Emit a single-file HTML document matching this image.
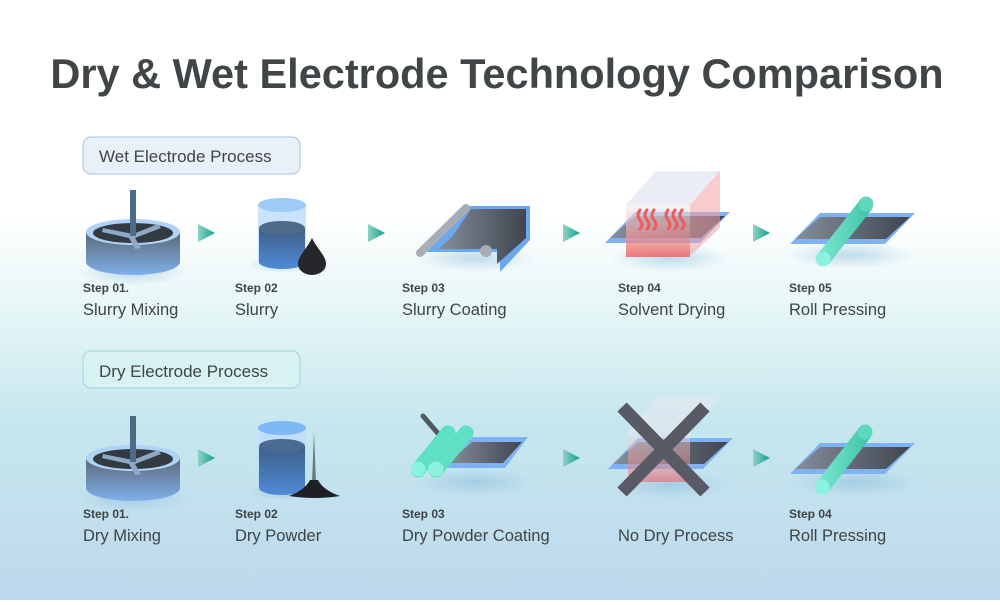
<!DOCTYPE html>
<html><head><meta charset="utf-8"><style>
html,body{margin:0;padding:0}
body{width:1000px;height:600px;overflow:hidden;font-family:"Liberation Sans",sans-serif}
</style></head><body>
<svg width="1000" height="600" viewBox="0 0 1000 600" xmlns="http://www.w3.org/2000/svg">
<defs>
<linearGradient id="bg" x1="0" y1="0" x2="0" y2="1">
<stop offset="0" stop-color="#ffffff"/><stop offset="0.36" stop-color="#ffffff"/>
<stop offset="0.52" stop-color="#e6f6f6"/><stop offset="0.7" stop-color="#c6e7ef"/>
<stop offset="1" stop-color="#bdd9ec"/></linearGradient>
<linearGradient id="arr" x1="0" x2="1"><stop offset="0" stop-color="#8fd3c6"/><stop offset="1" stop-color="#11a08e"/></linearGradient>
<linearGradient id="metal" x1="0" x2="1"><stop offset="0" stop-color="#868e9c"/><stop offset="1" stop-color="#40454e"/></linearGradient>
<linearGradient id="tub" x1="0" y1="0" x2="0" y2="1"><stop offset="0" stop-color="#5d6876"/><stop offset="1" stop-color="#7fb0ec"/></linearGradient>
<linearGradient id="cyl" x1="0" y1="0" x2="0" y2="1"><stop offset="0" stop-color="#3f5f86"/><stop offset="1" stop-color="#4f8ad8"/></linearGradient>
<linearGradient id="heat" x1="0" y1="0" x2="0" y2="1"><stop offset="0" stop-color="#eef0f5" stop-opacity="0.6"/><stop offset="1" stop-color="#f05a5a" stop-opacity="0.8"/></linearGradient>
<linearGradient id="roll" x1="0" x2="1"><stop offset="0" stop-color="#7fe8d2"/><stop offset="1" stop-color="#3cc3a6"/></linearGradient>
<radialGradient id="sh"><stop offset="0" stop-color="#7fb5d8" stop-opacity="0.45"/><stop offset="1" stop-color="#7fb5d8" stop-opacity="0"/></radialGradient>
<g id="arrow"><path d="M0,-9 L17,0 L0,9 Z" fill="url(#arr)"/></g>
<g id="plate">
<path d="M0,31 L30,0 L125,0 L95,31 Z" fill="#7fb2f2"/>
<path d="M5,26 L30,4 L120,4 L96,26 Z" fill="url(#metal)"/>
</g>
<g id="mixer">
<ellipse cx="0" cy="40" rx="55" ry="14" fill="url(#sh)"/>
<path d="M-47,0 L-47,30 A47,13 0 0 0 47,30 L47,0 Z" fill="url(#tub)"/>
<ellipse cx="0" cy="0" rx="47" ry="13" fill="#aed3f7"/>
<ellipse cx="0" cy="1" rx="40" ry="10" fill="#333a42"/>
<path d="M-30,-4 L0,2 L25,-8 L28,-4 L2,6 L8,16 L2,17 L-4,6 L-31,0 Z" fill="#8ea8c6"/>
<rect x="-3" y="-42" width="6" height="46" fill="#4d6b86"/>
</g>
<g id="roller">
<path d="M-6,6 L37,-49 L49,-40 L6,15 Z" fill="url(#roll)"/>
<circle cx="0" cy="10" r="7.5" fill="#8af2de"/>
<circle cx="43" cy="-45" r="7.5" fill="#5fd7bd"/>
</g>
</defs>
<rect width="1000" height="600" fill="url(#bg)"/>
<text x="497" y="88" text-anchor="middle" font-size="41.5" font-weight="bold" fill="#404548">Dry &amp; Wet Electrode Technology Comparison</text>

<rect x="83" y="137" width="217" height="37" rx="8" fill="#e9f0fa" stroke="#a6c2ea"/>
<text x="99" y="162" font-size="17" fill="#3f4447">Wet Electrode Process</text>
<rect x="83" y="351" width="217" height="37" rx="8" fill="#d8f2f2" stroke="#9dd6dc"/>
<text x="99" y="377" font-size="17" fill="#3f4447">Dry Electrode Process</text>

<!-- wet row -->
<use href="#mixer" x="133" y="232"/>
<use href="#arrow" x="198" y="233"/>
<ellipse cx="282" cy="265" rx="35" ry="8" fill="url(#sh)"/>
<path d="M258,205 L258,262 A24,7 0 0 0 306,262 L306,205 Z" fill="#bcdcfb" opacity="0.8"/>
<path d="M259,228 L259,262 A23,7 0 0 0 305,262 L305,228 Z" fill="url(#cyl)"/>
<ellipse cx="282" cy="228" rx="23" ry="7" fill="#4e6b8c"/>
<ellipse cx="282" cy="205" rx="24" ry="7" fill="#9ccaf9"/>
<path d="M312,238 C306,250 298,256 298,264 A14,11 0 0 0 326,264 C326,256 318,250 312,238 Z" fill="#25272b"/>
<use href="#arrow" x="368" y="233"/>
<ellipse cx="475" cy="258" rx="60" ry="14" fill="url(#sh)"/>
<path d="M467,206 L530,206 L530,240 L500,272 L500,252 L417,252 L437,236 Z" fill="#6aa8f0"/>
<path d="M471,209 L526,209 L526,238 L497,264 L497,249 L438,249 L452,237 Z" fill="url(#metal)"/>
<path d="M420,253 L466,208" stroke="#a6adb6" stroke-width="8" stroke-linecap="round"/>
<circle cx="486" cy="251" r="6" fill="#a6adb6"/>
<use href="#arrow" x="563" y="233"/>
<ellipse cx="670" cy="258" rx="60" ry="14" fill="url(#sh)"/>
<use href="#plate" x="605" y="212"/>
<path d="M626,205 L656,171 L720,171 L690,205 Z" fill="#e3e7ef" opacity="0.75"/>
<path d="M690,205 L720,171 L720,228 L690,256 Z" fill="#f3a0a4" opacity="0.55"/>
<rect x="626" y="205" width="64" height="52" fill="url(#heat)"/>
<g stroke="#ee5b60" stroke-width="3" fill="none" stroke-linecap="round">
<path d="M640,210 q-4,5 0,10 q4,5 0,9"/><path d="M647,210 q-4,5 0,10 q4,5 0,9"/><path d="M654,210 q-4,5 0,10 q4,5 0,9"/>
<path d="M668,210 q-4,5 0,10 q4,5 0,9"/><path d="M675,210 q-4,5 0,10 q4,5 0,9"/><path d="M682,210 q-4,5 0,10 q4,5 0,9"/>
</g>
<use href="#arrow" x="753" y="233"/>
<ellipse cx="850" cy="255" rx="65" ry="14" fill="url(#sh)"/>
<use href="#plate" x="790" y="213"/>
<use href="#roller" x="823" y="249"/>

<!-- dry row -->
<use href="#mixer" x="133" y="458"/>
<use href="#arrow" x="198" y="458"/>
<ellipse cx="282" cy="492" rx="35" ry="8" fill="url(#sh)"/>
<path d="M258,428 L258,488 A24,7 0 0 0 306,488 L306,428 Z" fill="#bcdcfb" opacity="0.8"/>
<path d="M259,446 L259,488 A23,7 0 0 0 305,488 L305,446 Z" fill="url(#cyl)"/>
<ellipse cx="282" cy="446" rx="23" ry="7" fill="#4a6a92"/>
<ellipse cx="282" cy="428" rx="24" ry="7" fill="#7fb8f6"/>
<path d="M289,496 Q305,490 310,480 L318,480 Q323,490 340,496 Q315,500 289,496 Z" fill="#1e2024"/>
<path d="M312,482 L314,432 L316,482 Z" fill="#1e2024" opacity="0.55"/>
<use href="#arrow" x="563" y="458"/>
<ellipse cx="475" cy="482" rx="60" ry="14" fill="url(#sh)"/>
<path d="M440,468 L470,437 L528,437 L505,468 Z" fill="#7fb2f2"/>
<path d="M448,463 L472,442 L522,442 L503,463 Z" fill="url(#metal)"/>
<path d="M423,416 L448,445" stroke="#1e2024" stroke-width="5" stroke-linecap="round" opacity="0.7"/>
<path d="M418,470 L448,433 M436,470 L466,433" stroke="#5fe0c4" stroke-width="15" stroke-linecap="round"/>
<circle cx="418" cy="469" r="7.5" fill="#8af2de"/><circle cx="436" cy="469" r="7.5" fill="#8af2de"/>
<ellipse cx="670" cy="485" rx="60" ry="14" fill="url(#sh)"/>
<use href="#plate" x="608" y="438"/>
<path d="M628,430 L658,397 L720,397 L690,430 Z" fill="#e3e7ef" opacity="0.7"/>
<rect x="628" y="430" width="62" height="52" fill="url(#heat)" opacity="0.7"/>
<path d="M622,407 L705,492 M705,407 L622,492" stroke="#585b66" stroke-width="13"/>
<use href="#arrow" x="753" y="458"/>
<ellipse cx="855" cy="482" rx="65" ry="14" fill="url(#sh)"/>
<use href="#plate" x="790" y="443"/>
<use href="#roller" x="822" y="477"/>

<g fill="#3f4447">
<g font-size="12" font-weight="bold">
<text x="83" y="292">Step 01.</text><text x="235" y="292">Step 02</text><text x="402" y="292">Step 03</text><text x="618" y="292">Step 04</text><text x="789" y="292">Step 05</text>
<text x="83" y="518">Step 01.</text><text x="235" y="518">Step 02</text><text x="402" y="518">Step 03</text><text x="789" y="518">Step 04</text>
</g>
<g font-size="16.5">
<text x="83" y="315">Slurry Mixing</text><text x="235" y="315">Slurry</text><text x="402" y="315">Slurry Coating</text><text x="618" y="315">Solvent Drying</text><text x="789" y="315">Roll Pressing</text>
<text x="83" y="541">Dry Mixing</text><text x="235" y="541">Dry Powder</text><text x="402" y="541">Dry Powder Coating</text><text x="618" y="541">No Dry Process</text><text x="789" y="541">Roll Pressing</text>
</g>
</g>
</svg>
</body></html>
